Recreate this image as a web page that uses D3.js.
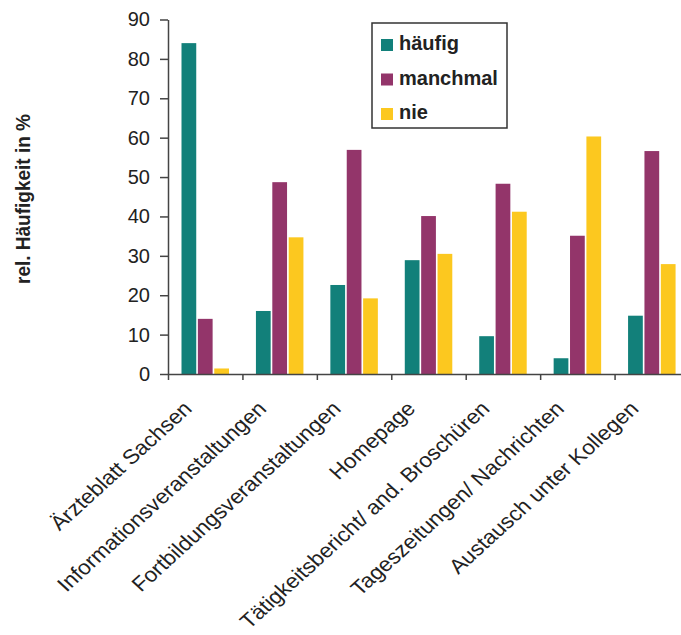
<!DOCTYPE html>
<html>
<head>
<meta charset="utf-8">
<script src="https://cdn.jsdelivr.net/npm/d3@7"></script>
<style>
  body { margin: 0; background: #fff; }
  text { font-family: "Liberation Sans", Arial, sans-serif; fill: #222; }
</style>
</head>
<body>
<div id="chart"></div>
<script>
const categories = ["Ärzteblatt Sachsen", "Informationsveranstaltungen", "Fortbildungsveranstaltungen",
  "Homepage", "Tätigkeitsbericht/ and. Broschüren", "Tageszeitungen/ Nachrichten", "Austausch unter Kollegen"];
const seriesNames = ["häufig", "manchmal", "nie"];
const haeufig  = [84, 16, 22.6, 28.9, 9.6, 4.0, 14.8];
const manchmal = [14, 48.7, 56.9, 40.1, 48.3, 35.1, 56.6];
const nie      = [1.4, 34.7, 19.2, 30.5, 41.2, 60.3, 27.9];
const yTicks = [0, 10, 20, 30, 40, 50, 60, 70, 80, 90];
const colors = ["#12807a", "#93356a", "#fcc81f"];

const values = [haeufig, manchmal, nie];

const svg = d3.select("#chart").append("svg")
    .attr("width", 681)
    .attr("height", 635);

const x = d3.scaleBand()
    .domain(categories)
    .range([168, 689])
    .padding(0);

const xSub = d3.scaleBand()
    .domain(seriesNames)
    .range([13.5, 61])
    .paddingInner(0.1);

const y = d3.scaleLinear()
    .domain([0, 90])
    .range([374, 19.5]);

// bars
categories.forEach((c, i) => {
  svg.append("g")
    .selectAll("rect")
    .data(seriesNames)
    .enter()
    .append("rect")
    .attr("x", s => x(c) + xSub(s))
    .attr("y", (s, j) => y(values[j][i]))
    .attr("width", xSub.bandwidth())
    .attr("height", (s, j) => y(0) - y(values[j][i]))
    .style("fill", (s, j) => colors[j]);
});

// y axis
const yAxis = svg.append("g")
    .attr("transform", "translate(168,0)")
    .call(d3.axisLeft(y).tickValues(yTicks).tickSize(8).tickSizeOuter(0).tickPadding(10));
yAxis.selectAll("text")
    .style("font-size", "20px")
    .style("font-family", "Liberation Sans, Arial, sans-serif")
    .attr("fill", "#222");

// x axis (ticks at category boundaries)
const xIdx = d3.scaleLinear().domain([0, categories.length]).range(x.range());
svg.append("g")
    .attr("transform", "translate(0,374)")
    .call(d3.axisBottom(xIdx).tickValues(d3.range(categories.length + 1)).tickFormat("").tickSize(6).tickSizeOuter(0));

svg.selectAll(".domain, .tick line").attr("stroke", "#444").attr("stroke-width", 1.5);

// category labels (slightly stretched like the source)
svg.append("g")
  .selectAll("text")
  .data(categories)
  .enter()
  .append("text")
  .attr("transform", d => `translate(${x(d) + x.bandwidth() / 2 - 12},410) scale(1.1,1) rotate(-45)`)
  .attr("text-anchor", "end")
  .style("font-size", "20.5px")
  .text(d => d);

// y axis title
svg.append("text")
  .attr("transform", "translate(30,199) scale(1.1,1) rotate(-90)")
  .attr("text-anchor", "middle")
  .style("font-size", "19px")
  .style("font-weight", "bold")
  .text("rel. Häufigkeit in %");

// legend
const legend = svg.append("g").attr("transform", "translate(372,23)");
legend.append("rect")
  .attr("width", 135)
  .attr("height", 105)
  .attr("fill", "#fff")
  .attr("stroke", "#333")
  .attr("stroke-width", 1.5);

const items = legend.selectAll(".item")
  .data(seriesNames)
  .enter()
  .append("g")
  .attr("transform", (d, i) => `translate(9,${16 + i * 34.5})`);
items.append("rect")
  .attr("width", 12)
  .attr("height", 12)
  .style("fill", (d, i) => colors[i]);
items.append("text")
  .attr("x", 18)
  .attr("y", 11)
  .style("font-size", "20px")
  .style("font-weight", "bold")
  .text(d => d);
</script>
</body>
</html>
